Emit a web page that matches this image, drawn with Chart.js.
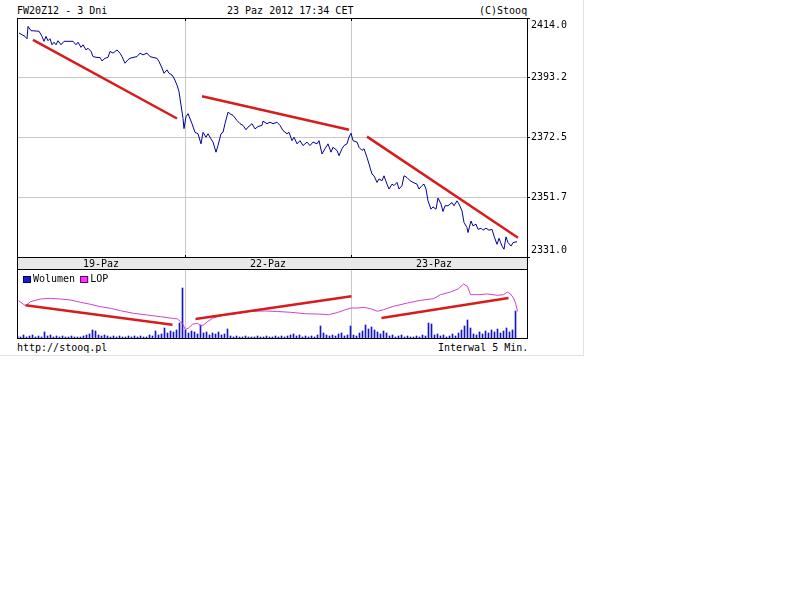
<!DOCTYPE html>
<html>
<head>
<meta charset="utf-8">
<script src="https://cdn.jsdelivr.net/npm/chart.js@4.4.0/dist/chart.umd.min.js"></script>
<style>
body { margin: 0; background: #fff; font: 10px "DejaVu Sans Mono", monospace; color: #000; }
#wrap { position: relative; width: 585px; height: 357px; }
.t { position: absolute; white-space: pre; line-height: 12px; }
canvas { position: absolute; left: 0; }
.edge { position: absolute; background: #e2e2e2; }
</style>
</head>
<body>
<div id="wrap">
  <div class="t" style="left:17px;top:5px">FW20Z12 - 3 Dni</div>
  <div class="t" style="left:227px;top:5px">23 Paz 2012 17:34 CET</div>
  <div class="t" style="left:479px;top:5px">(C)Stooq</div>
  <canvas id="price" width="585" height="269" style="top:0"></canvas>
  <canvas id="vol" width="585" height="72" style="top:269px"></canvas>
  <div class="t" style="left:17px;top:342px">http://stooq.pl</div>
  <div class="t" style="left:438px;top:342px">Interwal 5 Min.</div>
  <div class="edge" style="left:583px;top:0;width:1px;height:356px"></div>
  <div class="edge" style="left:0;top:355px;width:584px;height:1px"></div>
</div>
<script>
// time axis: 0..510 slots, one slot per pixel column of the plot
const dayEdges = [168, 334];
const dayMids = [84, 251, 417];
const dayLabels = ['19-Paz', '22-Paz', '23-Paz'];
const yTicks = [2331.0, 2351.7, 2372.5, 2393.2, 2414.0];

// FW20Z12 price
const priceT = [2,8,10,11,14,22,25,27,29,31,33,35,37,39,41,44,47,56,59,61,64,66,69,71,74,76,80,83,85,88,
  91,93,96,100,103,105,108,111,113,116,120,123,126,130,133,136,140,142,145,147,150,152,155,157,160,162,164,166,167,
  169,171,175,178,181,184,186,189,191,194,196,199,201,204,206,208,211,214,216,220,223,226,229,231,235,238,241,245,246,250,
  253,256,260,263,266,270,272,275,277,280,283,286,290,293,296,300,302,305,308,311,314,316,320,322,325,327,330,332,334,
  336,340,342,345,347,350,352,355,357,360,362,365,367,370,372,375,377,380,382,385,387,390,393,396,400,402,405,407,409,411,
  414,416,419,421,424,426,428,431,435,437,440,442,445,447,450,451,454,456,459,461,464,466,469,472,475,477,480,482,485,487,
  489,491,494,496,500];
const priceV = [2408.8,2407.6,2406.8,2411.1,2409.6,2409.4,2407.6,2405.9,2407.6,2406.1,2406.8,2404.7,2405.6,2404.7,2406.1,
  2404.7,2405.9,2405.9,2404.7,2405.6,2403.8,2404.7,2402.9,2403.5,2402.4,2400.6,2400.3,2400.3,2399.1,2400.0,2400.3,2402.4,
  2401.8,2402.9,2401.8,2400.6,2398.3,2399.5,2400.0,2400.3,2400.6,2401.8,2401.2,2401.8,2400.6,2400.3,2400.0,2398.9,2396.6,
  2394.8,2396.0,2394.8,2394.2,2393.1,2390.7,2388.4,2383.8,2379.1,2375.6,
  2379.7,2380.8,2377.3,2374.3,2373.8,2370.3,2374.3,2372.6,2373.8,2372.0,2370.9,2367.4,2369.7,2373.8,2374.3,2377.3,2381.3,
  2380.5,2380.2,2378.4,2377.3,2376.7,2375.2,2376.1,2377.3,2375.5,2376.3,2376.7,2378.2,2377.3,2377.8,2377.3,2377.8,2376.7,
  2374.9,2373.8,2374.3,2371.4,2372.6,2370.3,2371.4,2369.7,2370.9,2369.7,2370.9,2370.3,2371.4,2366.8,2368.6,2370.3,2367.4,
  2369.1,2368.0,2366.2,2368.6,2369.7,2370.3,2372.6,2374.0,
  2371.4,2370.9,2369.1,2368.0,2368.6,2365.6,2363.3,2359.8,2359.2,2356.9,2358.1,2357.5,2359.2,2356.3,2354.6,2356.3,2355.8,
  2356.9,2354.6,2355.8,2359.2,2358.6,2357.5,2356.9,2356.3,2354.6,2355.8,2356.3,2354.6,2350.5,2347.6,2348.4,2347.6,2351.5,
  2349.4,2346.8,2348.8,2348.8,2349.9,2348.8,2350.5,2349.4,2347.0,2343.0,2341.2,2339.5,2343.5,2341.8,2342.4,2340.6,2341.0,
  2340.3,2341.0,2340.3,2340.6,2338.3,2335.4,2337.5,2334.8,2333.7,2338.0,2336.0,2334.8,2336.0,2336.3];

// trend lines drawn on the price panel (start, end)
const priceTrendT = [[16, 160], [185, 332], [350, 501]];
const priceTrendV = [[2406.4, 2379.1], [2386.8, 2375.2], [2372.8, 2337.7]];

// volume, one bar every VOL_STEP slots
const VOL_STEP = 3;
const volume = [2,1,3,1,2,3,1,2,1,6,2,3,1,2,1,2,1,1,2,1,1,1,2,3,4,8,7,3,2,3,2,1,2,1,2,1,1,2,1,2,1,2,1,1,3,2,7,3,4,10,5,7,6,8,15,50,
  8,5,7,6,4,13,5,6,3,5,4,6,3,4,9,2,1,2,1,1,2,1,1,1,2,1,1,2,1,1,2,1,2,1,2,3,4,2,3,1,2,1,2,1,3,12,5,3,2,3,2,4,5,2,3,12,
  3,2,5,7,13,9,11,8,6,4,7,5,2,3,1,2,3,1,2,1,1,2,1,3,2,15,14,3,4,2,3,1,2,4,2,5,8,12,18,10,4,3,6,4,7,5,8,6,9,5,7,10,6,8,27];

// LOP (open interest)
const lopT = [1,8,13,23,33,43,53,63,73,83,93,103,116,130,143,155,160,163,166,167,168,171,175,180,183,186,190,195,201,210,
  220,233,248,260,273,288,300,311,320,328,334,340,346,353,360,366,376,390,403,416,423,433,441,446,450,453,460,470,480,486,
  490,493,496,498,500];
const lopV = [37.3,32.3,36.3,39,39.7,39,38,35.7,33.7,31.3,29.7,27.3,24.7,23,21.3,19.7,19,16.3,13,9.7,8.5,10,13.7,14.7,12.3,
  13,16.3,19.7,21.7,23.3,24.5,26.7,27,26.5,25.7,24.3,24,23.3,25.5,28.3,30,30,30.7,29.3,26.7,28.3,31.7,35,37.7,39.3,43.3,46,
  49.3,54,51.7,43.3,43.3,44,42.7,43.3,46,44,40,35,26.7];

// trend lines drawn on the volume panel (LOP scale)
const volTrendT = [[8, 155], [178, 334], [364, 491]];
const volTrendV = [[32.7, 13.3], [19, 41.7], [20, 40]];

const FONT = { family: '"DejaVu Sans Mono", monospace', size: 10 };
const FONT_CSS = '10px "DejaVu Sans Mono", monospace';
const GRID = '#c8c8c8';
const RED = 'rgb(214,28,28)';

function pts(ts, vs) { return ts.map((t, i) => ({ x: t, y: vs[i] })); }

function trendSets(ts, vs, axis) {
  return ts.map((t, i) => ({
    label: '', type: 'line', data: pts(t, vs[i]), yAxisID: axis,
    borderColor: RED, borderWidth: 2.5, pointRadius: 0, order: 0
  }));
}

// black box round the plot + small ticks at day boundaries
const frame = {
  id: 'frame',
  afterDraw(chart, args, opts) {
    const { ctx, chartArea: a } = chart;
    const x = chart.scales.x;
    ctx.save();
    ctx.strokeStyle = '#000';
    ctx.lineWidth = 1;
    ctx.strokeRect(a.left + 0.5, a.top + 0.5, a.right - a.left, a.bottom - a.top);
    if (opts.band) {
      ctx.beginPath();
      ctx.moveTo(a.left + 0.5, a.bottom); ctx.lineTo(a.left + 0.5, chart.height);
      ctx.moveTo(a.right + 0.5, a.bottom); ctx.lineTo(a.right + 0.5, chart.height);
      dayEdges.forEach(d => {
        const px = Math.round(x.getPixelForValue(d)) + 0.5;
        ctx.moveTo(px, a.top); ctx.lineTo(px, a.top + 3);
        ctx.moveTo(px, a.bottom - 2); ctx.lineTo(px, a.bottom + 1);
      });
      ctx.stroke();
    }
    ctx.restore();
  }
};

// grey date band under the price panel
const band = {
  id: 'band',
  beforeDraw(chart) {
    const { ctx, chartArea: a } = chart;
    ctx.save();
    ctx.fillStyle = '#e8e8e8';
    ctx.fillRect(a.left, a.bottom, a.right - a.left + 1, chart.height - a.bottom);
    ctx.restore();
  }
};

// price labels, top and bottom ones pulled inside the plot height
const yLabels = {
  id: 'yLabels',
  afterDraw(chart) {
    const { ctx, chartArea: a } = chart;
    const s = chart.scales.y;
    ctx.save();
    ctx.font = FONT_CSS;
    ctx.fillStyle = '#000';
    ctx.textBaseline = 'middle';
    s.ticks.forEach(t => {
      let y = s.getPixelForValue(t.value);
      y = Math.min(Math.max(y, a.top + 7.5), a.bottom - 6.5);
      ctx.fillText(t.value.toFixed(1), a.right + 4, y);
    });
    ctx.restore();
  }
};

new Chart(document.getElementById('price'), {
  type: 'line',
  data: {
    datasets: [
      { data: pts(priceT, priceV), borderColor: '#00009c', borderWidth: 1, pointRadius: 0, order: 1 },
      ...trendSets(priceTrendT, priceTrendV, 'y')
    ]
  },
  options: {
    responsive: false,
    animation: false,
    layout: { padding: { left: 17, top: 18, right: 0, bottom: 0 } },
    plugins: { legend: { display: false }, tooltip: { enabled: false }, frame: { band: true } },
    scales: {
      x: {
        type: 'linear', min: 0, max: 510,
        afterBuildTicks: s => { s.ticks = dayEdges.concat(dayMids).map(v => ({ value: v })); },
        afterFit: s => { s.height = 12; },
        border: { display: false },
        grid: { color: c => dayEdges.includes(c.tick && c.tick.value) ? GRID : 'rgba(0,0,0,0)', drawTicks: false },
        ticks: {
          padding: 1, maxRotation: 0, autoSkip: false, font: FONT, color: '#000',
          callback: v => { const i = dayMids.indexOf(v); return i < 0 ? '' : dayLabels[i]; }
        }
      },
      y: {
        position: 'right', min: 2331, max: 2414,
        afterBuildTicks: s => { s.ticks = yTicks.map(v => ({ value: v })); },
        afterFit: s => { s.width = 58; },
        border: { display: false },
        grid: { color: GRID, tickColor: '#000', tickLength: 3 },
        ticks: { display: false }
      }
    }
  },
  plugins: [band, frame, yLabels]
});

const legendFill = ['#1a1ad0', '#ff33ff'];
const legendEdge = ['#000066', '#660066'];

// legend inside the volume panel, in one row: Wolumen, LOP
const volLegend = {
  id: 'volLegend',
  afterDraw(chart) {
    const { ctx, chartArea: a } = chart;
    let x = a.left + 6;
    const y = a.top + 7;
    ctx.save();
    ctx.font = FONT_CSS;
    ctx.textBaseline = 'middle';
    chart.data.datasets.slice(0, 2).forEach((d, i) => {
      ctx.fillStyle = legendFill[i];
      ctx.fillRect(x, y, 8, 7);
      ctx.strokeStyle = legendEdge[i];
      ctx.lineWidth = 1;
      ctx.strokeRect(x + 0.5, y + 0.5, 7, 6);
      ctx.fillStyle = '#000';
      ctx.fillText(d.label, x + 10, y + 3.5);
      x += 10 + ctx.measureText(d.label).width + 5;
    });
    ctx.restore();
  }
};

new Chart(document.getElementById('vol'), {
  type: 'bar',
  data: {
    datasets: [
      {
        label: 'Wolumen', data: volume.map((v, i) => ({ x: i * VOL_STEP, y: v })), yAxisID: 'yv',
        backgroundColor: '#1414c8', barThickness: 1, order: 2
      },
      {
        label: 'LOP', type: 'line', data: pts(lopT, lopV), yAxisID: 'yl',
        borderColor: '#d040d0', borderWidth: 1, pointRadius: 0, order: 1
      },
      ...trendSets(volTrendT, volTrendV, 'yl')
    ]
  },
  options: {
    responsive: false,
    animation: false,
    layout: { padding: { left: 17, right: 58, top: 0, bottom: 3 } },
    plugins: { tooltip: { enabled: false }, frame: { band: false }, legend: { display: false } },
    scales: {
      x: {
        type: 'linear', min: -0.5, max: 509.5, offset: false,
        afterBuildTicks: s => { s.ticks = dayEdges.map(v => ({ value: v })); },
        afterFit: s => { s.height = 0; },
        border: { display: false },
        grid: { color: GRID, drawTicks: false, offset: false },
        ticks: { display: false }
      },
      yv: { display: false, min: 0, max: 69 },
      yl: { display: false, min: 0, max: 69 }
    }
  },
  plugins: [frame, volLegend]
});
</script>
</body>
</html>
